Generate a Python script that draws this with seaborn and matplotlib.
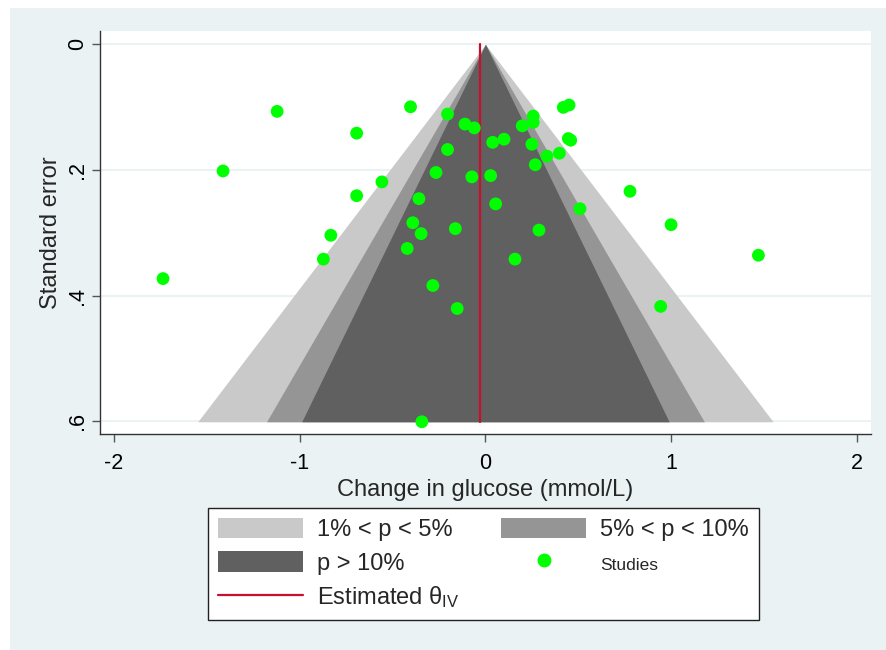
import matplotlib
matplotlib.use("Agg")
import matplotlib.pyplot as plt
import numpy as np
import pandas as pd
import seaborn as sns
from matplotlib.patches import Patch, Rectangle
from matplotlib.lines import Line2D

# study effects (mmol/L) and their standard errors
effect = [-1.121, -0.403, -0.204, -0.693, -0.110, -0.060, -1.412, -0.204, -0.557,
          -0.266, -0.073, 0.028, -0.693, -0.358, 0.055, -0.832, -0.391, -0.346,
          -0.162, -0.421, -0.872, 0.159, -1.735, -0.283, -0.152, -0.342, 0.039,
          0.100, 0.198, 0.257, 0.257, 0.250, 0.419, 0.450, 0.446, 0.459, 0.331,
          0.398, 0.268, 0.778, 0.509, 0.999, 0.288, 1.469, 0.943]
std_err = [0.1067, 0.0994, 0.111, 0.1414, 0.127, 0.133, 0.2016, 0.1674, 0.219,
           0.204, 0.211, 0.209, 0.241, 0.2457, 0.254, 0.304, 0.284, 0.3014,
           0.2934, 0.325, 0.342, 0.342, 0.373, 0.384, 0.4206, 0.601, 0.156,
           0.151, 0.1297, 0.1142, 0.1243, 0.159, 0.1003, 0.0966, 0.150, 0.1526,
           0.178, 0.1733, 0.1917, 0.234, 0.2617, 0.2872, 0.2958, 0.3358, 0.4173]

theta_iv = -0.03
# significance contours: two-sided z for 1%, 5%, 10%
z_1pct = 2.576
z_5pct = 1.960
z_10pct = 1.645

df = pd.DataFrame({"effect": effect, "se": std_err})
se_max = df["se"].max()
se_grid = np.linspace(0, se_max, 50)

sns.set_style("white")
plt.rcParams["font.family"] = ["Liberation Sans", "DejaVu Sans"]
plt.rcParams["mathtext.fontset"] = "custom"
plt.rcParams["mathtext.rm"] = "Liberation Sans"
plt.rcParams["mathtext.it"] = "Liberation Sans"

bg = "#EAF2F3"
light = "#C9C9C9"
mid = "#959595"
dark = "#606060"
red = "#C8102E"
green = "#00FF00"

fig = plt.figure(figsize=(8.86, 6.5), dpi=100)
fig.patch.set_facecolor("white")
fig.patches.append(Rectangle((10 / 886, 0), 1, 1 - 8 / 650, transform=fig.transFigure,
                             facecolor=bg, edgecolor="none", zorder=-10))
ax = fig.add_axes([0.1129, 0.3323, 0.8702, 0.62])
ax.set_facecolor("white")

ax.fill_betweenx(se_grid, -z_1pct * se_grid, z_1pct * se_grid, color=light, lw=0, zorder=1)
ax.fill_betweenx(se_grid, -z_5pct * se_grid, z_5pct * se_grid, color=mid, lw=0, zorder=2)
ax.fill_betweenx(se_grid, -z_10pct * se_grid, z_10pct * se_grid, color=dark, lw=0, zorder=3)
ax.plot([theta_iv, theta_iv], [0, se_max], color=red, lw=1.6, zorder=4)

sns.scatterplot(data=df, x="effect", y="se", ax=ax, color=green, s=85,
                edgecolor="none", zorder=5, legend=False)

ax.set_xlim(-2.074, 2.075)
ax.set_ylim(0.6205, -0.0213)
ax.set_xticks([-2, -1, 0, 1, 2])
ax.set_xticklabels(["-2", "-1", "0", "1", "2"])
ax.set_yticks([0, 0.2, 0.4, 0.6])
ax.set_yticklabels(["0", ".2", ".4", ".6"], rotation=90, va="center")
ax.grid(axis="y", color=bg, lw=1.5, zorder=0)
ax.set_axisbelow(True)

for side in ["top", "right"]:
    ax.spines[side].set_visible(False)
for side in ["left", "bottom"]:
    ax.spines[side].set_color("#333333")
    ax.spines[side].set_linewidth(1.0)
ax.tick_params(axis="both", direction="out", length=6, width=1, color="#555555",
               labelsize=15.5, labelcolor="black", left=True, bottom=True)
ax.tick_params(axis="x", pad=8)
ax.tick_params(axis="y", pad=2.5)

ax.set_xlabel("Change in glucose (mmol/L)", fontsize=17, labelpad=3)
ax.set_ylabel("Standard error", fontsize=17, labelpad=4)

handles = [
    Patch(facecolor=light, edgecolor="none", label="1% < p < 5%"),
    Patch(facecolor=dark, edgecolor="none", label="p > 10%"),
    Line2D([], [], color=red, lw=1.6, label=r"Estimated θ$_{\mathrm{IV}}$"),
    Patch(facecolor=mid, edgecolor="none", label="5% < p < 10%"),
    Line2D([], [], color=green, marker="o", ls="none", markersize=9, label="Studies"),
]
leg = fig.legend(handles=handles, loc="center", bbox_to_anchor=(0.546, 0.132), ncol=2,
                 fontsize=17, frameon=True, fancybox=False, edgecolor="#222222",
                 framealpha=1, handlelength=3.6, handleheight=0.95, handletextpad=0.6,
                 columnspacing=1.75, labelspacing=0.42, borderpad=0.42)
leg.get_frame().set_linewidth(1.0)
for txt in leg.get_texts():
    if txt.get_text() == "Studies":
        txt.set_fontsize(12.5)

fig.savefig("out.png", dpi=100, facecolor=fig.get_facecolor())
